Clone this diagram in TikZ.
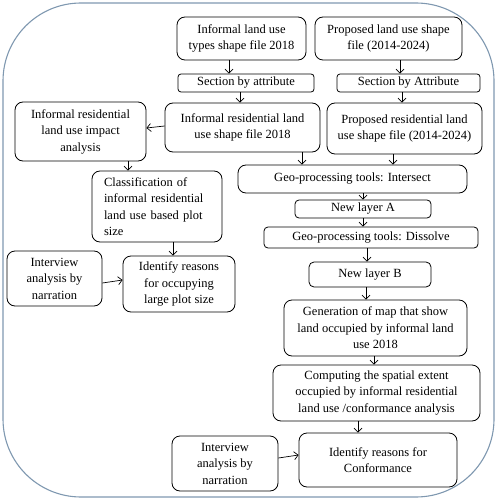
\documentclass[tikz,border=0pt]{standalone}
\usepackage{fontspec}
\setmainfont{Liberation Serif}
\usetikzlibrary{arrows.meta}
\definecolor{framecol}{HTML}{7F98B0}
\tikzset{
  box/.style={draw=black, line width=0.8pt, rounded corners=8pt, align=center,
    inner sep=1pt, font=\fontsize{12.5}{16.5}\selectfont, anchor=center},
  arr/.style={draw=black, line width=0.7pt, -{Straight Barb[length=4pt,width=8pt]}},
}
\begin{document}
\begin{tikzpicture}[x=1pt,y=-1pt]
\useasboundingbox (0,0) rectangle (498,500);
\draw[framecol, line width=1.1pt, rounded corners=78pt] (3,3) rectangle (494,497);

\node[box, minimum width=129pt, minimum height=43pt] (n1) at (241.5,38.5) {Informal land use\\types shape file 2018};
\node[box, minimum width=147pt, minimum height=43pt] (n2) at (388.5,38.5) {Proposed land use shape\\file (2014-2024)};
\node[box, rounded corners=3pt, minimum width=136pt, minimum height=18pt] (n3) at (246,83) {Section by attribute};
\node[box, rounded corners=3pt, minimum width=143pt, minimum height=18pt] (n4) at (408.5,83) {Section by Attribute};
\node[box, minimum width=155pt, minimum height=49pt] (n5) at (242.5,127.5) {Informal residential land\\use shape file 2018};
\node[box, minimum width=155pt, minimum height=51pt] (n6) at (404.5,128.5) {Proposed residential land\\use shape file (2014-2024)};
\node[box, minimum width=131pt, minimum height=59pt] (n7) at (80.5,131.5) {Informal residential\\land use impact\\analysis};
\node[box, align=left, text width=106pt, minimum width=130pt, minimum height=71pt] (n8) at (157,206.5) {Classification of\\informal residential\\land use based plot\\size};
\node[box, minimum width=95pt, minimum height=55pt] (n9) at (54.5,278.5) {Interview\\analysis by\\narration};
\node[box, minimum width=112pt, minimum height=56pt] (n10) at (179,284) {Identify reasons\\for occupying\\large plot size};
\node[box, minimum width=229pt, minimum height=28pt] (n11) at (352.5,179) {Geo-processing tools: Intersect};
\node[box, rounded corners=4pt, minimum width=136pt, minimum height=18pt] (n12) at (363,209) {New layer A};
\node[box, rounded corners=4pt, minimum width=214pt, minimum height=21pt] (n13) at (371,237.5) {Geo-processing tools: Dissolve};
\node[box, rounded corners=5pt, minimum width=122pt, minimum height=25pt] (n14) at (370,274.5) {New layer B};
\node[box, minimum width=183pt, minimum height=56pt] (n15) at (375.5,328) {Generation of map that show\\land occupied by informal land\\use 2018};
\node[box, minimum width=207pt, minimum height=56pt] (n16) at (376.5,393) {Computing the spatial extent\\occupied by informal residential\\land use /conformance analysis};
\node[box, minimum width=106pt, minimum height=55pt] (n17) at (225,463.5) {Interview\\analysis by\\narration};
\node[box, minimum width=158pt, minimum height=54pt] (n18) at (378,460) {Identify reasons for\\Conformance};

\draw[arr] (n1.south -| 229,0) -- (n3.north -| 229,0);
\draw[arr] (n2.south -| 400,0) -- (n4.north -| 400,0);
\draw[arr] (n3.south -| 240,0) -- (n5.north -| 240,0);
\draw[arr] (n4.south -| 402,0) -- (n6.north -| 402,0);
\draw[arr] (n5.west |- 0,126) -- (n7.east |- 0,128);
\draw[arr] (n7.south -| 128,0) -- (n8.north -| 128,0);
\draw[arr] (n8.south -| 173,0) -- (n10.north -| 173,0);
\draw[arr] (n9.east |- 0,283) -- (n10.west |- 0,280);
\draw[arr] (n5.south -| 302,0) -- (n11.north -| 302,0);
\draw[arr] (n6.south -| 393,0) -- (n11.north -| 393,0);
\draw[arr] (n11.south -| 363,0) -- (n12.north -| 363,0);
\draw[arr] (n12.south -| 363,0) -- (n13.north -| 363,0);
\draw[arr] (n13.south -| 367,0) -- (n14.north -| 367,0);
\draw[arr] (n14.south -| 366,0) -- (n15.north -| 366,0);
\draw[arr] (n15.south -| 374,0) -- (n16.north -| 374,0);
\draw[arr] (n16.south -| 358,0) -- (n18.north -| 358,0);
\draw[arr] (n17.east |- 0,458) -- (n18.west |- 0,455);
\end{tikzpicture}
\end{document}
